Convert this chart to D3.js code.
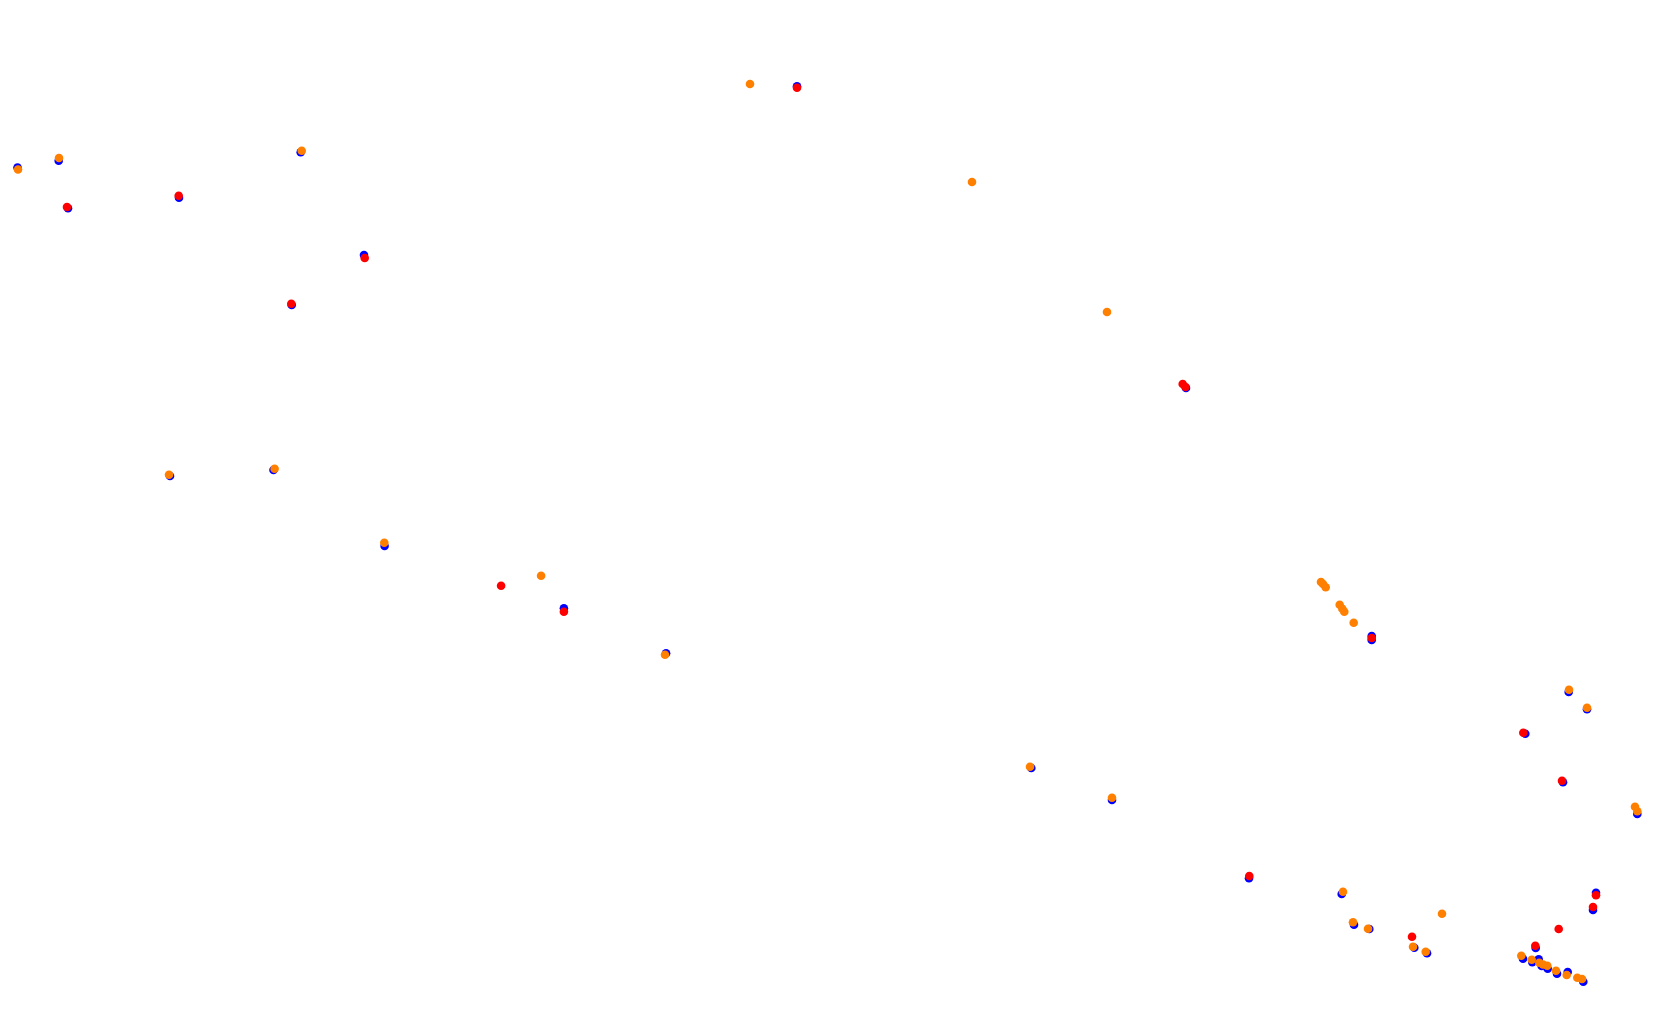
<!DOCTYPE html>
<html>
<head>
<meta charset=utf-8>
<style>
body {margin: 0; background: #fff;}
svg {display: block;}
</style>
</head>
<body>
<svg id=chart width=1680 height=1027></svg>
<script src='https://cdn.jsdelivr.net/npm/d3@7'></script>
<script>
// point positions (x, y in plot units)
var bluePoints = [
  [17.5,167.5],[58.7,160.7],[68,208.3],[179,197.7],[300.7,152.3],[364,255],[291.7,305],
  [170,476],[273.5,470],[384.6,546],[563.9,608.3],[666.1,653.3],
  [797,86.3],[1186,388],
  [1031.3,768],[1112,800],[1249,878.3],[1341.7,894],
  [1371.7,636],[1371.7,640],
  [1568.7,692],[1587,709.3],[1525.3,733.7],[1563,782.3],[1637.3,814],
  [1354,924.7],[1369.3,929],[1414.3,947.7],[1427,953.3],
  [1596,892.7],[1593,910],[1535.7,948],
  [1523,958.7],[1532.3,962.3],[1538.7,959.3],[1541.7,966],[1547.7,968.7],
  [1557,973.7],[1567.7,972],[1583.3,981.7]
];
var redPoints = [
  [67,207],[178.7,195.7],[364.7,258],[291.3,303.7],
  [501.1,585.7],[563.9,611.7],
  [797,87.7],[1182.7,384],[1185.5,387],
  [1249.3,876],[1371.7,638],
  [1523.3,732.7],[1562,780.7],
  [1412,936.7],[1596,895.3],[1593,907],[1558.7,929],[1535.3,945.7]
];
var orangePoints = [
  [18,169.5],[59,158],[301.7,150.7],
  [169,474.7],[274.6,468.7],[384.3,542.7],[541.1,575.7],[665,654.7],
  [750,84],[972,182],[1107,312],
  [1030,766.7],[1112,797.7],[1343,891.7],
  [1321,582],[1323,584],[1325.7,587.3],[1339.7,604.7],[1342.3,608.7],[1344.3,611.7],[1353.7,622.7],
  [1569,689.7],[1587,707.7],[1635,806.7],[1637.3,811.3],
  [1353,922.3],[1368,928.7],[1442,913.7],[1413,946.7],[1425.7,951.7],
  [1521.3,955.7],[1531.7,959.7],[1539.3,962.7],[1543,964.5],[1547.3,965.7],
  [1556,970.7],[1566.7,975],[1577.3,977.7],[1582,979]
];

var series = [
  {name: 'blue', color: '#0000ff', points: bluePoints},
  {name: 'red', color: '#ff0000', points: redPoints},
  {name: 'orange', color: '#ff8000', points: orangePoints}
];

var svg = d3.select('#chart');
var width = +svg.attr('width');
var height = +svg.attr('height');

var x = d3.scaleLinear().domain([0, 1680]).range([0, width]);
var y = d3.scaleLinear().domain([0, 1027]).range([0, height]);

svg.selectAll('g.series')
  .data(series)
  .enter().append('g')
    .attr('class', function(d) { return 'series ' + d.name; })
    .attr('fill', function(d) { return d.color; })
  .selectAll('circle')
  .data(function(d) { return d.points; })
  .enter().append('circle')
    .attr('cx', function(d) { return x(d[0]); })
    .attr('cy', function(d) { return y(d[1]); })
    .attr('r', 4.3);
</script>
</body>
</html>
